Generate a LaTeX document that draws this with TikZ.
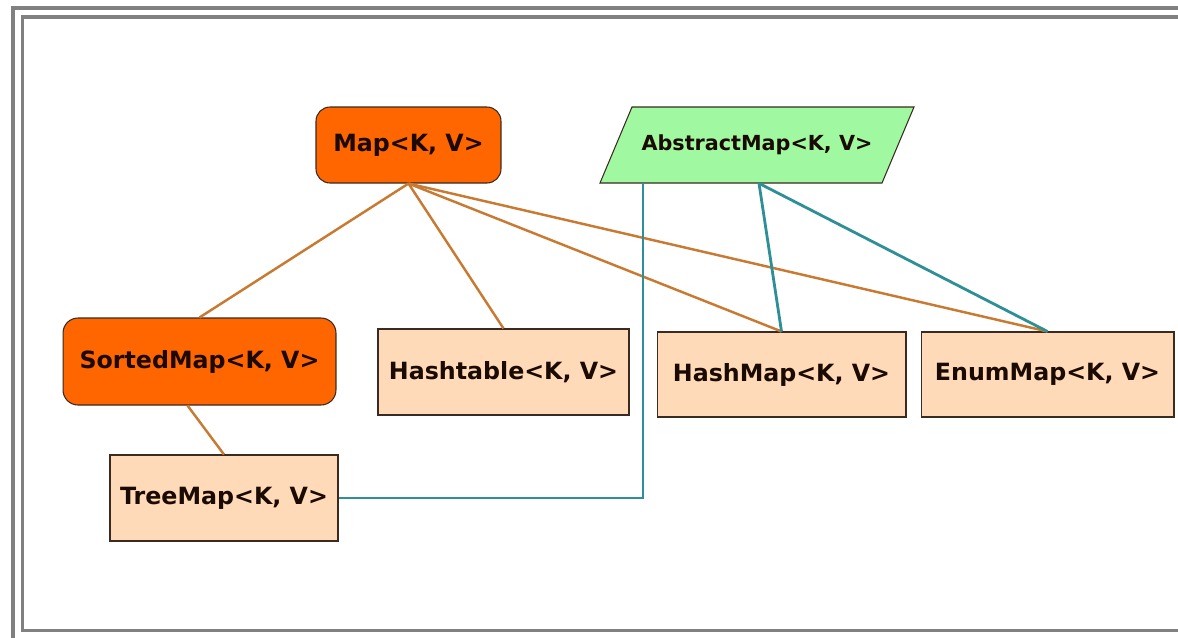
\documentclass[tikz,border=0pt]{standalone}
\usepackage{fontspec}
\setmainfont{DejaVu Sans}
\usepackage{tikz}
\usetikzlibrary{positioning}

\definecolor{mapOrange}{HTML}{FF6600}
\definecolor{implPeach}{HTML}{FFDAB9}
\definecolor{abstractGreen}{HTML}{A0F8A0}
\definecolor{boxEdge}{HTML}{3A2A20}
\definecolor{labelInk}{HTML}{1A0A00}
\definecolor{linkBrown}{HTML}{C87A32}
\definecolor{linkTeal}{HTML}{2F8F96}
\definecolor{frameGray}{HTML}{808080}

\begin{document}
\begin{tikzpicture}[x=0.02cm, y=-0.02cm,
        font=\fontsize{13.5}{16}\selectfont\bfseries,
        iface/.style={draw=boxEdge, fill=mapOrange, rounded corners=0.28cm, line width=0.6pt, inner sep=0pt, text=labelInk},
        impl/.style={draw=boxEdge, fill=implPeach, line width=0.6pt, inner sep=0pt, text=labelInk},
        uses/.style={draw=linkBrown, line width=1.4pt},
        extends/.style={draw=linkTeal, line width=1.6pt},
        frame/.style={draw=frameGray, line width=2pt}]
        \useasboundingbox (0,0) rectangle (1178,637);
        % double frame, cut at the right and bottom
        \begin{scope}
            \clip (0,0) rectangle (1178,637);
            \draw[frame] (13,700) -- (13,8) -- (1250,8);
            \draw[frame] (1250,17) -- (22.5,17) -- (22.5,630.5) -- (1250,630.5);
        \end{scope}
        \draw[draw=boxEdge, fill=abstractGreen, line width=0.6pt] (600,183) -- (632,107) -- (914,107) -- (882,183) -- cycle;
        \node[minimum width=5.6cm, minimum height=1.52cm, inner sep=0pt, text=labelInk, font=\fontsize{11.8}{14}\selectfont\bfseries] (abstract) at (757,145) {AbstractMap<K, V>};
        \node[iface, minimum width=3.7cm, minimum height=1.52cm] (map) at (408.5,145) {Map<K, V>};
        \node[iface, minimum width=5.46cm, minimum height=1.74cm, rounded corners=0.3cm] (sorted) at (199.5,361.5) {SortedMap<K, V>};
        \node[impl, minimum width=4.56cm, minimum height=1.72cm] (tree) at (224,498) {TreeMap<K, V>};
        \node[impl, minimum width=5.02cm, minimum height=1.72cm] (hashtable) at (503.5,372) {Hashtable<K, V>};
        \node[impl, minimum width=4.98cm, minimum height=1.7cm] (hashmap) at (781.5,374.5) {HashMap<K, V>};
        \node[impl, minimum width=5.06cm, minimum height=1.7cm, right=0.28cm of hashmap] (enummap) {EnumMap<K, V>};
        \coordinate (absfoot) at (643,183);
        \draw[uses] (map.south) -- (sorted.north);
        \draw[uses] (map.south) -- (hashtable.north);
        \draw[uses] (map.south) -- (hashmap.north);
        \draw[uses] (map.south) -- (enummap.north);
        \draw[uses] ([xshift=-0.24cm]sorted.south) -- (tree.north);
        \draw[extends] (tree.east) -| (absfoot);
        \draw[extends] ([xshift=0.04cm]abstract.south) -- (hashmap.north);
        \draw[extends] ([xshift=0.04cm]abstract.south) -- (enummap.north);
    \end{tikzpicture}
\end{document}
